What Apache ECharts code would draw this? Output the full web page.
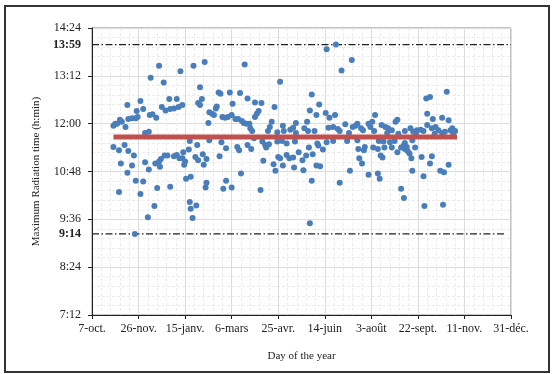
<!DOCTYPE html>
<html>
<head>
<meta charset="utf-8">
<script src="https://cdn.jsdelivr.net/npm/echarts@6/dist/echarts.min.js"></script>
<style>
  html, body { margin: 0; padding: 0; background: #fff; }
  #chart { width: 555px; height: 374px; }
</style>
</head>
<body>
<div id="chart"></div>
<script>
// x = days since 7 oct., y = minutes of radiation
var xTickLabels = ['7-oct.', '26-nov.', '15-janv.', '6-mars', '25-avr.', '14-juin', '3-août', '22-sept.', '11-nov.', '31-déc.'];
var yTickLabels = ['7:12', '8:24', '9:36', '10:48', '12:00', '13:12', '14:24'];

var aboveMean = [
    [23,717],[25,720],[27,720],[30,726],[32,723],[36,715],[39,727],[43,728],[47,728],[49,730],
    [48,739],[52,754],[55,742],[62,733],[65,734],[69,729],[57,706],[61,708],[38,748],[63,789],
    [72,807],[77,782],[95,799],[109,807],[121,813],[75,745],[79,740],[84,742],[88,743],[93,745],
    [97,748],[83,757],[91,757],[116,775],[118,757],[114,751],[116,748],[125,721],[126,737],[129,735],
    [131,733],[134,746],[133,743],[136,767],[138,765],[148,767],[159,766],[140,730],[143,729],[146,730],
    [150,733],[151,750],[154,727],[157,727],[161,724],[163,721],[166,720],[169,720],[167,758],[164,809],
    [170,713],[172,709],[175,752],[182,751],[179,739],[177,735],[175,730],[196,745],[193,723],[191,715],
    [189,709],[199,707],[202,783],[205,717],[206,709],[213,711],[216,714],[219,706],[219,721],[228,713],
    [231,723],[232,709],[239,709],[236,764],[234,740],[241,733],[244,749],[251,736],[255,729],[261,733],
    [252,832],[262,839],[279,816],[268,800],[254,714],[259,715],[264,712],[266,709],[272,719],[276,706],
    [280,715],[283,717],[285,720],[289,713],[291,710],[297,720],[301,723],[299,715],[303,709],[304,733],
    [311,718],[315,715],[318,713],[322,710],[326,723],[328,726],[317,706],[329,705],[336,709],[342,713],
    [359,758],[363,760],[381,768],[360,735],[366,727],[376,729],[383,725],[345,708],[349,710],[353,711],
    [356,709],[360,718],[365,713],[369,715],[372,710],[376,706],[379,708],[385,710],[387,713],[390,709],
    [348,705],[368,705],[388,705]
];

var belowMean = [
    [23,685],[29,680],[35,688],[39,679],[45,672],[31,660],[43,657],[38,646],[47,634],[55,633],
    [57,662],[61,651],[68,660],[73,655],[72,663],[74,667],[78,672],[81,672],[88,671],[91,673],
    [94,668],[98,677],[104,681],[97,668],[100,663],[99,658],[101,637],[106,640],[29,617],[52,614],
    [70,623],[84,625],[67,596],[60,579],[105,602],[106,592],[112,597],[108,578],[46,554],[105,694],
    [122,624],[141,622],[150,624],[181,620],[113,688],[111,670],[114,665],[119,674],[123,667],[120,658],
    [126,695],[139,692],[144,683],[137,671],[156,685],[158,680],[167,688],[171,682],[183,693],[186,688],
    [190,689],[187,684],[199,693],[204,694],[184,664],[195,659],[197,649],[200,670],[205,657],[123,631],
    [144,634],[160,645],[174,698],[202,668],[209,673],[212,668],[216,669],[217,654],[222,677],[226,665],
    [230,672],[227,650],[233,684],[237,674],[241,657],[245,656],[236,634],[242,690],[243,687],[248,681],
    [252,692],[209,690],[218,693],[266,631],[277,649],[286,682],[287,668],[290,660],[292,680],[293,685],
    [297,643],[302,684],[234,570],[259,694],[274,694],[285,695],[307,682],[308,694],[313,693],[314,684],
    [320,692],[322,684],[325,694],[328,677],[332,684],[335,688],[336,682],[338,685],[339,679],[341,675],
    [343,668],[347,684],[310,672],[312,669],[307,645],[309,637],[344,649],[354,670],[365,671],[363,660],
    [356,641],[374,649],[378,647],[383,658],[332,622],[335,608],[357,596],[377,598],[344,695],[336,691]
];

var meanValue = 700;
var meanRange = [23, 392];
var maxLimit = 839;   // 13:59
var minLimit = 554;   // 9:14
var maxLimitRange = [0, 450];
var minLimitRange = [0, 443];

var serif = 'Liberation Serif';
var myChart = echarts.init(document.getElementById('chart'));

function minToLabel (v) {
    var h = Math.floor(v / 60), m = Math.round(v - h * 60);
    return h + ':' + (m < 10 ? '0' : '') + m;
}

var dashDot = [7, 2.5, 1.5, 2.5];

var option = {
    animation: false,
    graphic: [{
        type: 'rect',
        shape: { x: 5, y: 6, width: 544, height: 366 },
        style: { fill: 'none', stroke: '#333', lineWidth: 2 },
        silent: true
    }],
    grid: {
        left: 92, top: 28, right: 44, bottom: 59,
        show: true, borderColor: '#888', borderWidth: 1
    },
    xAxis: {
        type: 'value',
        min: 0, max: 450, interval: 50,
        name: 'Day of the year',
        nameLocation: 'middle',
        nameGap: 36,
        nameTextStyle: { fontFamily: serif, fontSize: 11, color: '#222' },
        axisLine: { show: true, onZero: false, lineStyle: { color: '#222', width: 1 } },
        axisTick: { show: true, length: 4, lineStyle: { color: '#222' } },
        axisLabel: {
            fontFamily: serif, fontSize: 12, color: '#222', margin: 8,
            formatter: function (v) { return xTickLabels[Math.round(v / 50)]; }
        },
        splitLine: { show: true, lineStyle: { color: '#dcdcdc', width: 1 } },
        minorTick: { show: true, splitNumber: 5, length: 0 },
        minorSplitLine: { show: true, lineStyle: { color: '#ececec', type: [3, 2] } }
    },
    yAxis: {
        type: 'value',
        min: 432, max: 864, interval: 72,
        name: 'Maximum Radiation time (h:min)',
        nameLocation: 'middle',
        nameGap: 50,
        nameTextStyle: { fontFamily: serif, fontSize: 11, color: '#222' },
        axisLine: { show: true, onZero: false, lineStyle: { color: '#222', width: 1 } },
        axisTick: { show: true, length: 4, lineStyle: { color: '#222' } },
        axisLabel: {
            fontFamily: serif, fontSize: 12, color: '#222', margin: 11,
            formatter: function (v) { return yTickLabels[Math.round((v - 432) / 72)]; }
        },
        splitLine: { show: true, lineStyle: { color: '#dcdcdc', width: 1 } },
        minorTick: { show: true, splitNumber: 5, length: 0 },
        minorSplitLine: { show: true, lineStyle: { color: '#ececec', type: [3, 2] } }
    },
    series: [
        {
            name: 'max',
            type: 'line',
            symbol: 'none',
            data: [[maxLimitRange[0], maxLimit], [maxLimitRange[1], maxLimit]],
            lineStyle: { color: '#222', width: 1.2, type: dashDot },
            markPoint: {
                symbol: 'circle', symbolSize: 0,
                data: [{ coord: [maxLimitRange[0], maxLimit] }],
                label: {
                    show: true, position: 'left', distance: 11,
                    formatter: function () { return minToLabel(maxLimit); },
                    fontFamily: serif, fontSize: 12, fontWeight: 'bold', color: '#222'
                }
            },
            z: 3
        },
        {
            name: 'min',
            type: 'line',
            symbol: 'none',
            data: [[minLimitRange[0], minLimit], [minLimitRange[1], minLimit]],
            lineStyle: { color: '#222', width: 1.2, type: dashDot },
            markPoint: {
                symbol: 'circle', symbolSize: 0,
                data: [{ coord: [minLimitRange[0], minLimit] }],
                label: {
                    show: true, position: 'left', distance: 11,
                    formatter: function () { return minToLabel(minLimit); },
                    fontFamily: serif, fontSize: 12, fontWeight: 'bold', color: '#222'
                }
            },
            z: 3
        },
        {
            name: 'points',
            type: 'scatter',
            symbolSize: 6,
            itemStyle: { color: '#4a7ebb', opacity: 1 },
            data: aboveMean.concat(belowMean),
            z: 4
        },
        {
            name: 'mean',
            type: 'line',
            symbol: 'none',
            data: [[meanRange[0], meanValue], [meanRange[1], meanValue]],
            lineStyle: { color: '#c0504d', width: 5 },
            z: 5
        }
    ]
};

option && myChart.setOption(option);
window.addEventListener('resize', function () {
    myChart.resize();
});
</script>
</body>
</html>
